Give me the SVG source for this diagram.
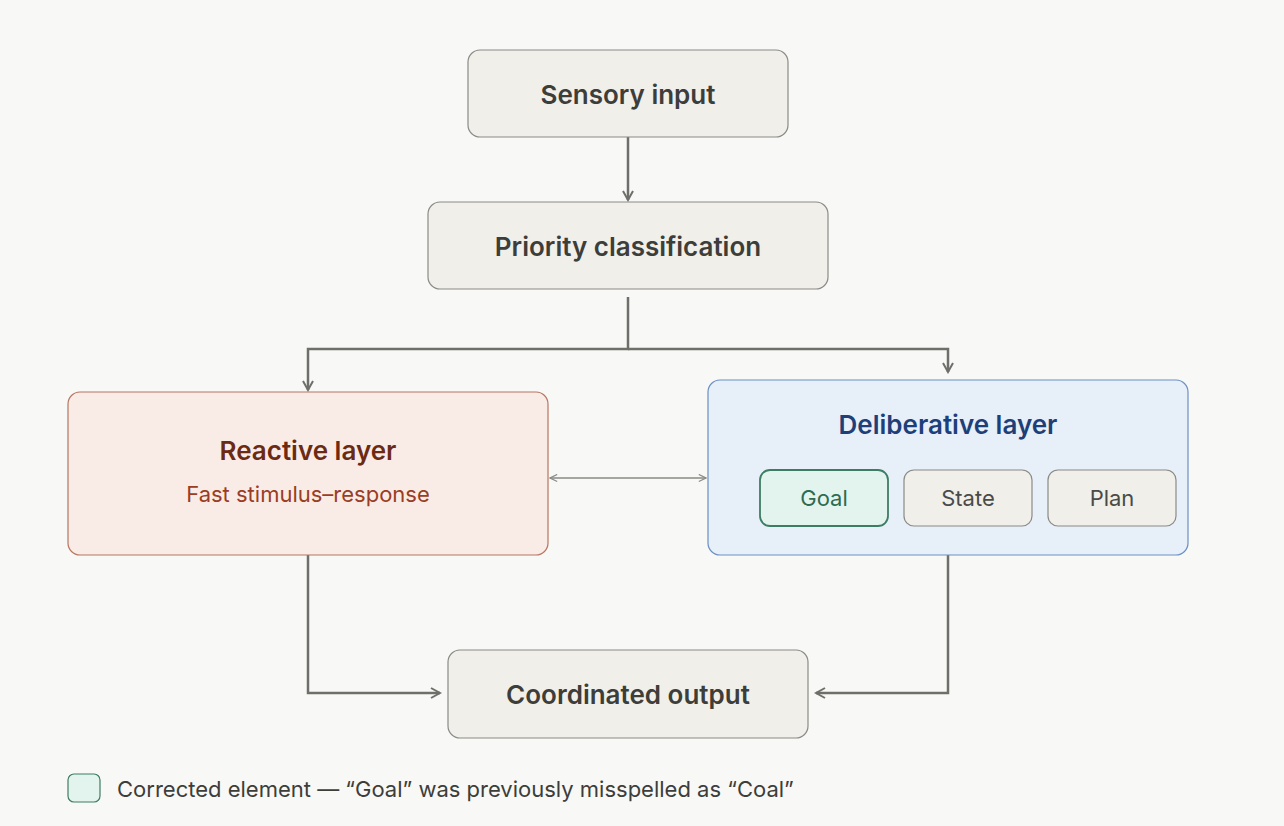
<svg xmlns="http://www.w3.org/2000/svg" width="1284" height="826" viewBox="0 0 1284 826">
<defs>
<marker id="ah" viewBox="0 0 12 12" refX="10" refY="6" markerWidth="12" markerHeight="12" markerUnits="userSpaceOnUse" orient="auto"><path d="M1,1 L10,6 L1,11" fill="none" stroke="#6e6e6a" stroke-width="2"/></marker>
<marker id="sh" viewBox="0 0 10 10" refX="9" refY="5" markerWidth="9" markerHeight="9" markerUnits="userSpaceOnUse" orient="auto-start-reverse"><path d="M1,1 L9,5 L1,9" fill="none" stroke="#8a8a86" stroke-width="1.3"/></marker>
</defs>
<style>
.n{fill:#f0efea;stroke:#8a8a86;stroke-width:1.2}
.t{font-family:Inter,"Noto Sans",sans-serif;font-weight:600;font-size:26px;fill:#3d3d3a;text-anchor:middle}
.s{font-family:Inter,"Noto Sans",sans-serif;font-size:22px;fill:#4a4a46;text-anchor:middle}
.c{fill:none;stroke:#6e6e6a;stroke-width:2.5}
</style>
<rect width="1284" height="826" fill="#f8f8f6"/>
<g id="connectors">
<path class="c" d="M628,137 V200" marker-end="url(#ah)"/>
<path class="c" d="M628,297 V349 H308 V390" marker-end="url(#ah)"/>
<path class="c" d="M628,349 H948 V372" marker-end="url(#ah)"/>
<path d="M550,478 H706" fill="none" stroke="#8a8a86" stroke-width="1.3" marker-start="url(#sh)" marker-end="url(#sh)"/>
<path class="c" d="M308,555 V693 H440" marker-end="url(#ah)"/>
<path class="c" d="M948,555 V693 H816" marker-end="url(#ah)"/>
</g>
<g id="sensory"><rect class="n" x="468" y="50" width="320" height="87" rx="12"/><text class="t" x="628" y="104">Sensory input</text></g>
<g id="priority"><rect class="n" x="428" y="202" width="400" height="87" rx="12"/><text class="t" x="628" y="256">Priority classification</text></g>
<g id="reactive"><rect x="68" y="392" width="480" height="163" rx="12" fill="#f9ece7" stroke="#b87560" stroke-width="1.2"/><text class="t" x="308" y="460" style="fill:#6b2a14">Reactive layer</text><text class="s" x="308" y="502" style="fill:#9a3d24">Fast stimulus–response</text></g>
<g id="deliberative"><rect x="708" y="380" width="480" height="175" rx="12" fill="#e7eff9" stroke="#6a8fc4" stroke-width="1.2"/><text class="t" x="948" y="434" style="fill:#1e3f78">Deliberative layer</text></g>
<g id="goal"><rect x="760" y="470" width="128" height="56" rx="10" fill="#e3f4ee" stroke="#3d7d63" stroke-width="1.8"/><text class="s" x="824" y="506" style="fill:#2e6b50">Goal</text></g>
<g id="state"><rect class="n" x="904" y="470" width="128" height="56" rx="10"/><text class="s" x="968" y="506">State</text></g>
<g id="plan"><rect class="n" x="1048" y="470" width="128" height="56" rx="10"/><text class="s" x="1112" y="506">Plan</text></g>
<g id="output"><rect class="n" x="448" y="650" width="360" height="88" rx="12"/><text class="t" x="628" y="704">Coordinated output</text></g>
<g id="legend"><rect x="68" y="774" width="32" height="28" rx="6" fill="#e3f4ee" stroke="#3d7d63" stroke-width="1.2"/><text x="117" y="797" style="font-family:Inter,'Noto Sans',sans-serif;font-size:22px;fill:#3d3d3a">Corrected element — “Goal” was previously misspelled as “Coal”</text></g>
</svg>
